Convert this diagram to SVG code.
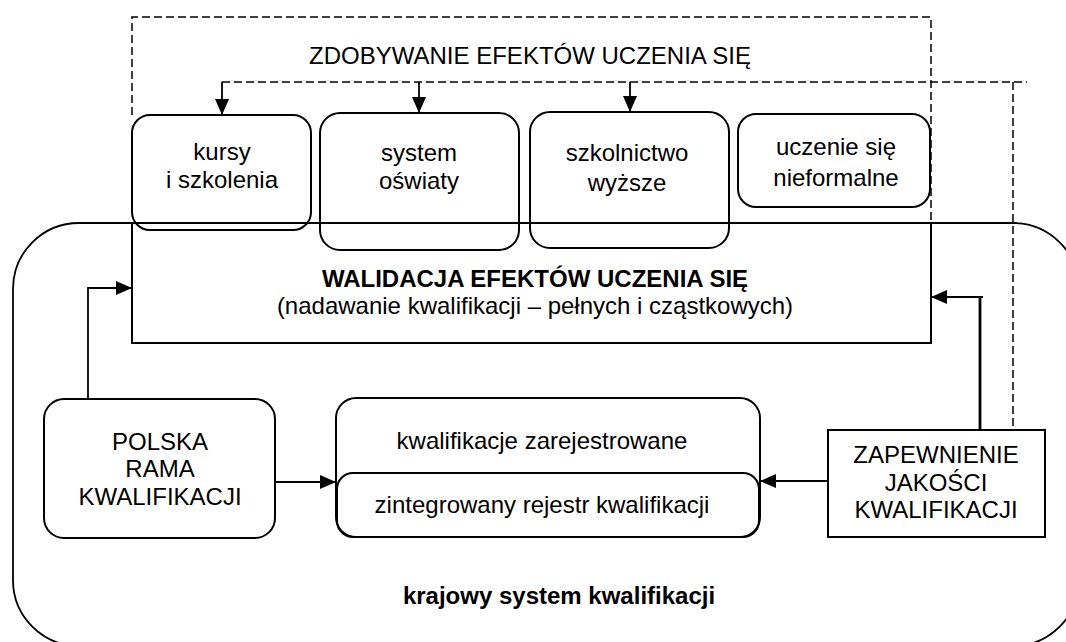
<svg xmlns="http://www.w3.org/2000/svg" width="1066" height="642" viewBox="0 0 1066 642">
<defs>
<style>
text{font-family:"Liberation Sans",Arial,sans-serif;font-size:24px;fill:#000;text-anchor:middle}
.b{font-weight:bold}
.box{fill:none;stroke:#000;stroke-width:2}
.ln{fill:none;stroke:#000;stroke-width:1.8}
.dash{fill:none;stroke:#000;stroke-width:1.5;stroke-dasharray:8 4}
</style>
<marker id="ah" viewBox="0 0 16 14" refX="16" refY="7" markerWidth="16" markerHeight="14" markerUnits="userSpaceOnUse" orient="auto">
<path d="M0,0 L16,7 L0,14 z" fill="#000"/>
</marker>
</defs>
<rect width="1066" height="642" fill="#fff"/>
<g id="krajowy-system">
<rect x="13" y="223" width="1066" height="423" rx="66" ry="66" class="ln"/>
<text x="559" y="604" class="b">krajowy system kwalifikacji</text>
</g>
<g id="zdobywanie">
<path d="M132,115 V17 H931 V223" class="dash"/>
<text x="530" y="64">ZDOBYWANIE EFEKTÓW UCZENIA SIĘ</text>
</g>
<g id="walidacja">
<path d="M132,223 V343 H931 V223" class="box"/>
<text x="535" y="287" class="b">WALIDACJA EFEKTÓW UCZENIA SIĘ</text>
<text x="535" y="314">(nadawanie kwalifikacji – pełnych i cząstkowych)</text>
</g>
<g id="kursy">
<rect x="132" y="115" width="179" height="115" rx="18" class="box"/>
<text x="222" y="160">kursy</text>
<text x="222" y="188">i szkolenia</text>
</g>
<g id="system-oswiaty">
<rect x="320" y="113" width="199" height="137" rx="20" class="box"/>
<text x="419" y="161">system</text>
<text x="419" y="189">oświaty</text>
</g>
<g id="szkolnictwo">
<rect x="530" y="112" width="199" height="136" rx="20" class="box"/>
<text x="627" y="161">szkolnictwo</text>
<text x="627" y="191">wyższe</text>
</g>
<g id="uczenie">
<rect x="738" y="114" width="192" height="93" rx="18" class="box"/>
<text x="836" y="155">uczenie się</text>
<text x="836" y="186">nieformalne</text>
</g>
<g id="polska-rama">
<rect x="44" y="399" width="231" height="139" rx="20" class="box"/>
<text x="160" y="450">POLSKA</text>
<text x="160" y="477">RAMA</text>
<text x="160" y="505">KWALIFIKACJI</text>
</g>
<g id="kwalifikacje">
<rect x="336" y="398" width="424" height="139" rx="20" class="box"/>
<rect x="337" y="473" width="422" height="64" rx="16" class="box"/>
<text x="542" y="449">kwalifikacje zarejestrowane</text>
<text x="542" y="513">zintegrowany rejestr kwalifikacji</text>
</g>
<g id="zapewnienie">
<rect x="828" y="430" width="217" height="107" class="box"/>
<text x="936" y="463">ZAPEWNIENIE</text>
<text x="936" y="491">JAKOŚCI</text>
<text x="936" y="518">KWALIFIKACJI</text>
</g>
<g id="connectors">
<path d="M222,82 H1027" class="dash"/>
<path d="M1013,82 V428" class="dash"/>
<path d="M222,82 V115" class="ln" marker-end="url(#ah)"/>
<path d="M419,82 V113" class="ln" marker-end="url(#ah)"/>
<path d="M630,82 V112" class="ln" marker-end="url(#ah)"/>
<path d="M88,399 V288 H132" class="ln" marker-end="url(#ah)"/>
<path d="M275,482 H336" class="ln" marker-end="url(#ah)"/>
<path d="M828,481 H760" class="ln" marker-end="url(#ah)"/>
<path d="M980,430 V297" fill="none" stroke="#000" stroke-width="2.8"/>
<path d="M983,297 H931" class="ln" marker-end="url(#ah)"/>
</g>
</svg>
